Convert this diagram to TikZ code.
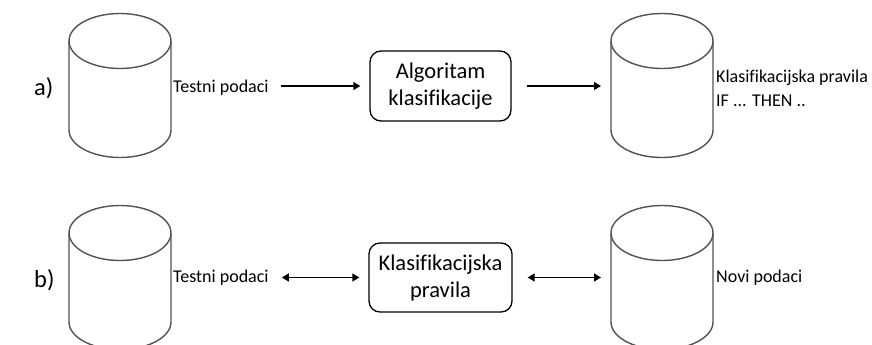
\documentclass[tikz,border=0pt]{standalone}
\usepackage{fontspec}
\setmainfont[Ligatures=NoCommon]{Carlito}
\usetikzlibrary{arrows.meta}
\begin{document}
\begin{tikzpicture}[x=1pt,y=-1pt,
  cyl/.style={draw=black!68,line width=1.4pt},
  procbox/.style={draw=black,line width=1.3pt,rounded corners=11pt,
    minimum width=141pt,minimum height=70pt,align=center,
    font=\fontsize{22.5}{27}\selectfont,inner sep=0pt},
  lbl/.style={anchor=west,align=left,inner sep=0pt,
    font=\fontsize{18}{24}\selectfont},
  rowlbl/.style={anchor=west,inner sep=0pt,font=\fontsize{24.5}{28}\selectfont},
  flow/.style={line width=1.3pt,-{Triangle[length=7pt,width=8pt]}},
  both/.style={line width=1.3pt,{Triangle[length=7pt,width=8pt]}-{Triangle[length=7pt,width=8pt]}},
  pics/dbcyl/.style={code={
    \draw[cyl] (0,0) ellipse[x radius=51,y radius=27.5];
    \draw[cyl] (-51,0) -- (-51,89) arc[start angle=180,end angle=0,x radius=51,y radius=27.5] -- (51,0);
  }}]
\useasboundingbox (0,0) rectangle (872,345);
\begin{scope}
\clip (0,0) rectangle (872,345);

% row a: training
\pic at (120,41) {dbcyl};
\pic at (662,41) {dbcyl};
\node[rowlbl] (ra) at (34,88) {a)};
\node[lbl] (ta) at (173,88) {Testni podaci};
\node[procbox] (alg) at (440.5,86) {Algoritam\\klasifikacije};
\coordinate (ca) at (612,86);
\node[lbl] (rules) at (716,88) {Klasifikacijska pravila\\IF ... THEN ..};
\draw[flow,shorten <=12pt,shorten >=9pt] (ta.east |- alg.west) -- (alg.west);
\draw[flow,shorten <=15pt,shorten >=11pt] (alg.east) -- (ca);

% row b: applying the rules
\pic at (120,233) {dbcyl};
\pic at (662,233) {dbcyl};
\node[rowlbl] (rb) at (34,280) {b)};
\node[lbl] (tb) at (173,278) {Testni podaci};
\node[procbox,minimum width=143pt,minimum height=69pt] (rul) at (440.5,277.5) {Klasifikacijska\\pravila};
\coordinate (cb) at (612,277.5);
\node[lbl] (nb) at (716,278) {Novi podaci};
\draw[both,shorten <=13pt,shorten >=9pt] (tb.east |- rul.west) -- (rul.west);
\draw[both,shorten <=15pt,shorten >=11pt] (rul.east) -- (cb);
\end{scope}
\end{tikzpicture}
\end{document}
